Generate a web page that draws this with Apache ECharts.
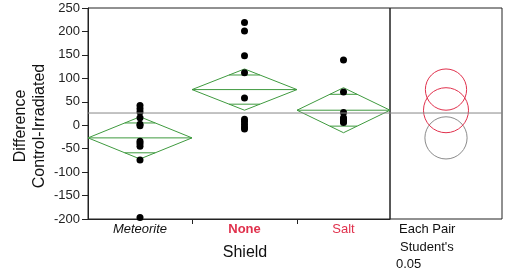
<!DOCTYPE html>
<html><head><meta charset="utf-8">
<script src="https://cdn.jsdelivr.net/npm/echarts@6/dist/echarts.min.js"></script>
<style>html,body{margin:0;padding:0;background:#fff}#c{width:508px;height:275px}</style>
</head><body><div id="c"></div>
<script>
const categories = ['Meteorite', 'None', 'Salt'];
const catWidths = [104, 105, 93];
const meteoriteValues = [42, 35, 28, 16, 2, -1, -34, -39, -45, -74, -197];
const noneValues = [219, 201, 148, 112, 58, 13, 8, 2, -4, -8];
const saltValues = [139, 71, 27, 16, 12, 8, 6];
const groupMeans = [-27, 76, 32];
const groupCI = [45, 44, 48];
const grandMean = 26;
const circleColors = ['#8a8a8a', '#e0304c', '#e0304c'];
const yMin = -200, yMax = 250, yInterval = 50;

const edges = [0];
catWidths.forEach(w => edges.push(edges[edges.length - 1] + w));
const total = edges[edges.length - 1];
const centers = categories.map((c, i) => (edges[i] + edges[i + 1]) / 2);
const groups = [meteoriteValues, noneValues, saltValues];
const scatterData = [];
groups.forEach((g, i) => g.forEach(v => scatterData.push([centers[i], v])));
const diamondData = categories.map((c, i) => [edges[i], edges[i + 1], groupMeans[i], groupCI[i]]);
const circlePanelWidth = 112;
const circleData = categories.map((c, i) => [circlePanelWidth / 2, groupMeans[i], groupCI[i], i]);

const labelStyles = {
  Meteorite: '{m|Meteorite}', None: '{n|None}', Salt: '{s|Salt}'
};

const chart = echarts.init(document.getElementById('c'));
const FONT = 'Liberation Sans, Arial, sans-serif';
chart.setOption({
  animation: false,
  textStyle: { fontFamily: FONT },
  grid: [
    { left: 88, right: 118, top: 8, bottom: 56, show: true, borderColor: '#222', borderWidth: 1 },
    { left: 390, right: 6, top: 8, bottom: 56, show: true, borderColor: '#222', borderWidth: 1 }
  ],
  xAxis: [
    {
      gridIndex: 0, type: 'value', min: 0, max: total,
      splitLine: { show: false },
      axisLine: { show: true, onZero: false, lineStyle: { color: '#222' } },
      axisTick: { show: true, customValues: edges.slice(1, -1), length: 5, lineStyle: { color: '#222' } },
      axisLabel: {
        show: true, customValues: centers, margin: 4,
        formatter: v => {
          let best = 0;
          centers.forEach((c, i) => { if (Math.abs(c - v) < Math.abs(centers[best] - v)) best = i; });
          return labelStyles[categories[best]];
        },
        rich: {
          m: { fontSize: 13, fontStyle: 'italic', color: '#111', fontFamily: FONT },
          n: { fontSize: 13, fontWeight: 'bold', color: '#e0304c', fontFamily: FONT },
          s: { fontSize: 13, color: '#e0304c', fontFamily: FONT }
        }
      }
    },
    {
      gridIndex: 1, type: 'value', min: 0, max: circlePanelWidth,
      show: false
    }
  ],
  yAxis: [
    {
      gridIndex: 0, type: 'value', min: yMin, max: yMax, interval: yInterval,
      splitLine: { show: false },
      axisLine: { show: true, onZero: false, lineStyle: { color: '#222' } },
      axisTick: { show: true, length: 6, lineStyle: { color: '#222' } },
      axisLabel: { fontSize: 13, color: '#222', margin: 8 }
    },
    {
      gridIndex: 1, type: 'value', min: yMin, max: yMax, interval: yInterval, show: false
    }
  ],
  series: [
    {
      type: 'line', xAxisIndex: 0, yAxisIndex: 0, data: [[0, grandMean], [total, grandMean]],
      symbol: 'none', lineStyle: { color: '#888', width: 1 }, silent: true
    },
    {
      type: 'line', xAxisIndex: 1, yAxisIndex: 1, data: [[0, grandMean], [circlePanelWidth, grandMean]],
      symbol: 'none', lineStyle: { color: '#888', width: 1 }, silent: true
    },
    {
      type: 'custom', xAxisIndex: 0, yAxisIndex: 0, data: diamondData,
      encode: { x: [0, 1], y: [2] },
      renderItem: (params, api) => {
        const l = api.value(0), r = api.value(1), m = api.value(2), c = api.value(3);
        const mid = (l + r) / 2;
        const pL = api.coord([l, m]), pR = api.coord([r, m]);
        const pT = api.coord([mid, m + c]), pB = api.coord([mid, m - c]);
        const f = 1 / Math.SQRT2;
        const hw = (1 - f) * (pR[0] - pL[0]) / 2;
        const yU = api.coord([mid, m + c * f])[1], yD = api.coord([mid, m - c * f])[1];
        const st = { stroke: '#3f9a3f', lineWidth: 1, fill: null };
        return {
          type: 'group', children: [
            { type: 'polygon', shape: { points: [pL, pT, pR, pB] }, style: st },
            { type: 'line', shape: { x1: pL[0], y1: pL[1], x2: pR[0], y2: pR[1] }, style: st },
            { type: 'line', shape: { x1: pT[0] - hw, y1: yU, x2: pT[0] + hw, y2: yU }, style: st },
            { type: 'line', shape: { x1: pT[0] - hw, y1: yD, x2: pT[0] + hw, y2: yD }, style: st }
          ]
        };
      }
    },
    {
      type: 'scatter', xAxisIndex: 0, yAxisIndex: 0, data: scatterData,
      symbol: 'circle', symbolSize: 7, itemStyle: { color: '#000', opacity: 1 }
    },
    {
      type: 'custom', xAxisIndex: 1, yAxisIndex: 1, data: circleData,
      encode: { x: [0], y: [1] },
      renderItem: (params, api) => {
        const x = api.value(0), m = api.value(1), c = api.value(2), k = api.value(3);
        const p = api.coord([x, m]);
        const rr = Math.abs(api.coord([x, m + c])[1] - p[1]);
        return { type: 'circle', shape: { cx: p[0], cy: p[1], r: rr }, style: { stroke: circleColors[k], lineWidth: 1, fill: null } };
      }
    }
  ],
  graphic: [
    { type: 'text', x: 30, y: 126, rotation: Math.PI / 2,
      style: { text: 'Difference\nControl-Irradiated', fill: '#111', font: '16px ' + FONT, lineHeight: 18.6, align: 'center', verticalAlign: 'middle' } },
    { type: 'text', x: 245, y: 253, style: { text: 'Shield', fill: '#111', font: '16px ' + FONT, align: 'center', verticalAlign: 'middle' } },
    { type: 'text', x: 399, y: 229, style: { text: 'Each Pair', fill: '#111', font: '13px ' + FONT, align: 'left', verticalAlign: 'middle' } },
    { type: 'text', x: 400, y: 247, style: { text: "Student's", fill: '#111', font: '13px ' + FONT, align: 'left', verticalAlign: 'middle' } },
    { type: 'text', x: 396, y: 264, style: { text: '0.05', fill: '#111', font: '13px ' + FONT, align: 'left', verticalAlign: 'middle' } }
  ]
});
</script></body></html>
